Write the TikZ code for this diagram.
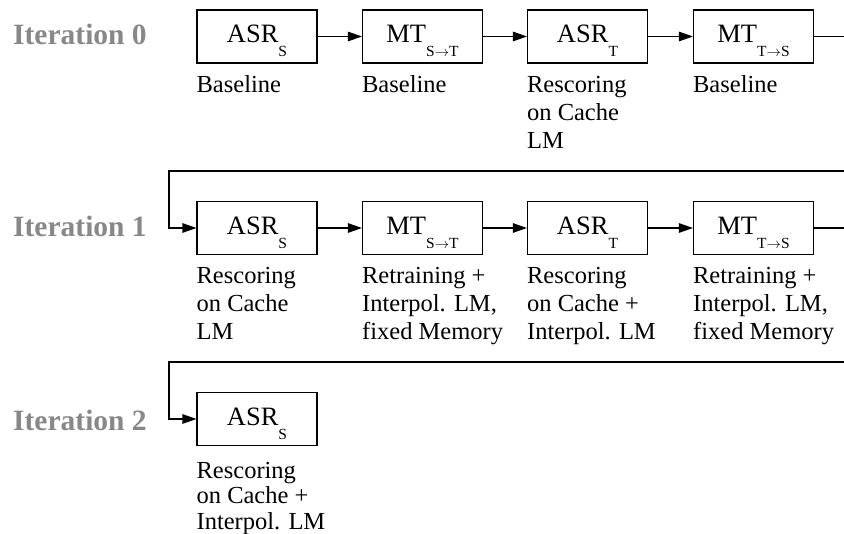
\documentclass[tikz,border=0pt]{standalone}
\usepackage{fontspec}
\setmainfont{Liberation Serif}
\usetikzlibrary{arrows.meta}
\definecolor{itergray}{HTML}{888888}
\newcommand{\sbs}[1]{\raisebox{-14pt}{\fontsize{15.5}{15.5}\selectfont #1}}
\newcommand{\sarr}{\ensuremath{\rightarrow}}
\begin{document}
\begin{tikzpicture}[x=1pt,y=-1pt,
  box/.style={draw, line width=1.1pt, minimum width=120pt, minimum height=53pt,
    inner sep=0pt, text height=33pt, text depth=20pt,
    font=\fontsize{26.5}{26.5}\selectfont},
  lbl/.style={anchor=north west, inner sep=0pt, align=left,
    font=\fontsize{24.5}{28}\selectfont},
  lbltight/.style={lbl, font=\fontsize{24.5}{25.6}\selectfont},
  iter/.style={anchor=base west, inner sep=0pt, text=itergray,
    font=\bfseries\fontsize{29.5}{30}\selectfont},
  conn/.style={line width=1.1pt},
  arr/.style={conn, -{Triangle[length=14pt,width=9.5pt]}}]
\useasboundingbox (0,0) rectangle (844,534);

% Iteration labels
\node[iter] (it0) at (13,45) {Iteration 0};
\node[iter] (it1) at (13,236.7) {Iteration 1};
\node[iter] (it2) at (13,430.5) {Iteration 2};

% Row 0
\node[box] (a1) at (257,36.5) {ASR\sbs{S}};
\node[box] (a2) at (422.5,36.5) {MT\sbs{S\sarr T}};
\node[box] (a3) at (587.5,36.5) {ASR\sbs{T}};
\node[box] (a4) at (753.5,36.5) {MT\sbs{T\sarr S}};
\coordinate (e0) at (844,36.5);

% Row 1
\node[box] (b1) at (257,228) {ASR\sbs{S}};
\node[box] (b2) at (422.5,228) {MT\sbs{S\sarr T}};
\node[box] (b3) at (587.5,228) {ASR\sbs{T}};
\node[box] (b4) at (753.5,228) {MT\sbs{T\sarr S}};
\coordinate (e1) at (844,228);
\coordinate (r1) at (844,171);
\coordinate (l1) at (169,171);

% Row 2
\node[box] (c1) at (257,419) {ASR\sbs{S}};
\coordinate (r2) at (844,362);
\coordinate (l2) at (169,362);

% Labels
\node[lbl] (la1) at ([yshift=-9.4pt]a1.south west) {\strut Baseline};
\node[lbl] (la2) at ([yshift=-9.4pt]a2.south west) {\strut Baseline};
\node[lbl] (la3) at ([yshift=-9.4pt]a3.south west) {\strut Rescoring\\on Cache\\LM};
\node[lbl] (la4) at ([yshift=-9.4pt]a4.south west) {\strut Baseline};

\node[lbl] (lb1) at ([yshift=-8.4pt]b1.south west) {\strut Rescoring\\on Cache\\LM};
\node[lbl] (lb2) at ([yshift=-8.4pt]b2.south west) {\strut Retraining +\\Interpol. LM,\\fixed Memory};
\node[lbl] (lb3) at ([yshift=-8.4pt]b3.south west) {\strut Rescoring\\on Cache +\\Interpol. LM};
\node[lbl] (lb4) at ([yshift=-8.4pt]b4.south west) {\strut Retraining +\\Interpol. LM,\\fixed Memory};

\node[lbltight] (lc1) at ([yshift=-14pt]c1.south west) {\strut Rescoring\\on Cache +\\Interpol. LM};

% Connectors
\draw[arr] (a1) -- (a2);
\draw[arr] (a2) -- (a3);
\draw[arr] (a3) -- (a4);
\draw[conn] (a4) -- (e0);

\draw[arr] (r1) -- (l1) |- (b1.west);
\draw[arr] (b1) -- (b2);
\draw[arr] (b2) -- (b3);
\draw[arr] (b3) -- (b4);
\draw[conn] (b4) -- (e1);

\draw[arr] (r2) -- (l2) |- (c1.west);
\end{tikzpicture}
\end{document}
